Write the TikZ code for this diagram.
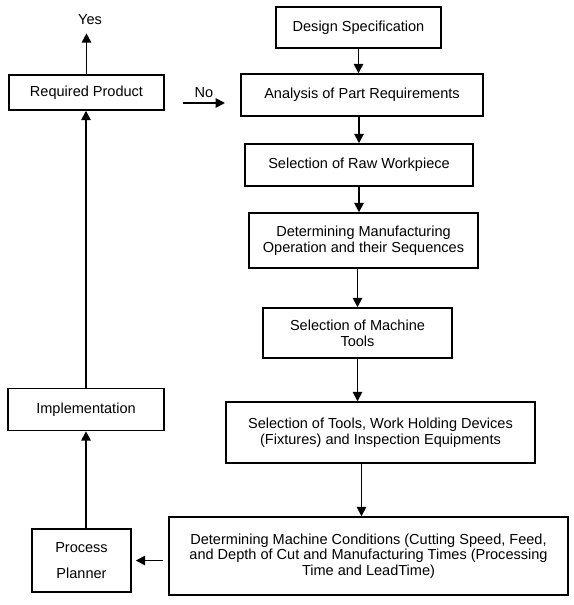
\documentclass[tikz,border=0pt]{standalone}
\usepackage{fontspec}
\setmainfont{Liberation Sans}
\usetikzlibrary{arrows.meta}

\begin{document}
\begin{tikzpicture}[x=0.75pt, y=-0.75pt,
    box/.style={draw, line width=1.1pt, align=center, inner sep=0pt, font=\fontsize{10.9}{11.8}\selectfont},
    flow/.style={->, line width=1.3pt},
    >={Triangle[length=7pt, width=7pt]}]
  \useasboundingbox (0,0) rectangle (573,605);
  \node[box, minimum width=165*0.75pt, minimum height=41*0.75pt] (spec) at (358.5,27.5) {Design Specification};
  \node[box, minimum width=242*0.75pt, minimum height=42*0.75pt] (analysis) at (362,95) {Analysis of Part Requirements};
  \node[box, minimum width=228*0.75pt, minimum height=42*0.75pt] (raw) at (359,165) {Selection of Raw Workpiece};
  \node[box, minimum width=229*0.75pt, minimum height=55*0.75pt] (oper) at (363.5,240.5) {Determining Manufacturing\\Operation and their Sequences};
  \node[box, minimum width=189*0.75pt, minimum height=50*0.75pt] (machine) at (357.5,333) {Selection of Machine\\Tools};
  \node[box, minimum width=309*0.75pt, minimum height=61*0.75pt] (tools) at (380.5,432.5) {Selection of Tools, Work Holding Devices\\(Fixtures) and Inspection Equipments};
  \node[box, minimum width=399*0.75pt, minimum height=78*0.75pt] (cond) at (368.5,556) {Determining Machine Conditions (Cutting Speed, Feed,\\and Depth of Cut and Manufacturing Times (Processing\\Time and LeadTime)};
  \node[box, minimum width=99*0.75pt, minimum height=63*0.75pt] (planner) at (81.5,560.5) {Process\\[7.7pt]Planner};
  \node[box, minimum width=156*0.75pt, minimum height=42*0.75pt] (impl) at (86,409.5) {Implementation};
  \node[box, minimum width=155*0.75pt, minimum height=35*0.75pt] (product) at (86.5,92.5) {Required Product};
  \node[font=\fontsize{10.9}{11.8}\selectfont, inner sep=0pt] (yes) at (90,20) {Yes};
  \coordinate (nostart) at (183,103);
  \coordinate (noend) at (225,103);

  \draw[flow] (spec.south) -- (spec.south |- analysis.north);
  \draw[flow] (analysis.south -| raw.north) -- (raw.north);
  \draw[flow] (raw.south -| raw.north) -- (raw.south |- oper.north);
  \draw[flow] (oper.south -| machine.north) -- (machine.north);
  \draw[flow] (machine.south) -- (machine.south |- tools.north);
  \draw[flow] ([xshift=3pt]tools.south -| machine.south) -- ([xshift=3pt]cond.north -| machine.south);
  \draw[flow, shorten <=3.75pt, shorten >=3pt] (cond.west |- planner.east) -- (planner.east);
  \draw[flow] (planner.north -| impl.south) -- (impl.south);
  \draw[flow] (impl.north) -- (impl.north |- product.south);
  \draw[flow, shorten >=6pt] (product.north) -- (product.north |- yes.south);
  \draw[flow] (nostart) -- node[above=3pt, font=\fontsize{10.9}{11.8}\selectfont, inner sep=0pt] {No} (noend);
\end{tikzpicture}
\end{document}
